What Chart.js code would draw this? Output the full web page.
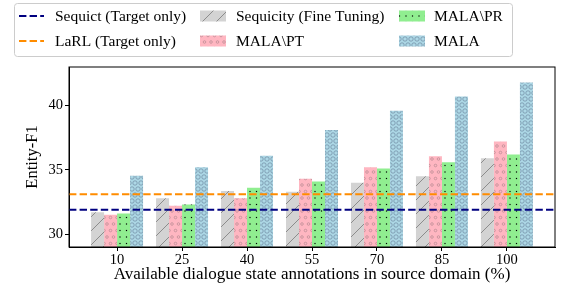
<!DOCTYPE html>
<html>
<head>
<meta charset="utf-8">
<script src="https://cdn.jsdelivr.net/npm/chart.js@4"></script>
<style>html,body{margin:0;padding:0;background:#fff}</style>
</head>
<body>
<canvas id="myChart" width="566" height="284"></canvas>
<script>
const annotations = ['10', '25', '40', '55', '70', '85', '100'];
const sequicityFT = [31.7, 32.8, 33.35, 33.3, 34.0, 34.5, 35.9];
const malaNoPT = [31.5, 32.2, 32.8, 34.3, 35.2, 36.05, 37.2];
const malaNoPR = [31.6, 32.3, 33.6, 34.1, 35.1, 35.6, 36.2];
const mala = [34.55, 35.2, 36.1, 38.1, 39.6, 40.7, 41.8];
const sequictTarget = 31.9;
const larlTarget = 33.1;
const yTicks = [30, 35, 40];

const serif = '"Liberation Serif", "Times New Roman", serif';
const canvas = document.getElementById('myChart');
const mainCtx = canvas.getContext('2d');

function makePattern(bg, size, draw) {
    const c = document.createElement('canvas');
    c.width = size;
    c.height = size;
    const ctx = c.getContext('2d');
    ctx.fillStyle = bg;
    ctx.fillRect(0, 0, size, size);
    draw(ctx);
    return mainCtx.createPattern(c, 'repeat');
}

function circles(ctx, pts, r) {
    pts.forEach(([x, y]) => {
        ctx.beginPath();
        ctx.arc(x, y, r, 0, Math.PI * 2);
        ctx.stroke();
    });
}

const grayHatch = makePattern('#d3d3d3', 14, ctx => {
    ctx.strokeStyle = '#7a7a7a';
    ctx.lineWidth = 0.8;
    ctx.beginPath();
    ctx.moveTo(0, 14); ctx.lineTo(14, 0);
    ctx.moveTo(-1, 1); ctx.lineTo(1, -1);
    ctx.moveTo(13, 15); ctx.lineTo(15, 13);
    ctx.stroke();
});
const pinkHatch = makePattern('#ffb6c1', 13, ctx => {
    ctx.strokeStyle = '#b78a92';
    ctx.lineWidth = 0.7;
    circles(ctx, [[3, 3], [9.5, 3], [0, 9.5], [6.5, 9.5], [13, 9.5]], 1.3);
});
const greenHatch = makePattern('#90ee90', 13, ctx => {
    ctx.fillStyle = '#000';
    [[3, 3], [9.5, 3], [3, 9.5], [9.5, 9.5]].forEach(([x, y]) => {
        ctx.fillRect(x - 0.6, y - 0.6, 1.2, 1.2);
    });
});
const blueHatch = makePattern('#add8e6', 12, ctx => {
    ctx.strokeStyle = '#7592a8';
    ctx.lineWidth = 0.8;
    circles(ctx, [[3, 3], [9, 3], [0, 9], [6, 9], [12, 9]], 2.2);
});

function barSet(label, values, fill) {
    return {
        type: 'bar',
        label: label,
        data: values.map((v, i) => ({x: i, y: v})),
        backgroundColor: fill,
        borderWidth: 0,
        categoryPercentage: 0.8,
        barPercentage: 1.0,
        order: 1
    };
}

function hLine(label, value, color) {
    return {
        type: 'line',
        label: label,
        data: [{x: -0.74, y: value}, {x: 6.74, y: value}],
        borderColor: color,
        borderWidth: 2,
        borderDash: [7.4, 3.2],
        pointRadius: 0,
        fill: false,
        order: 0
    };
}

const legendPlugin = {
    id: 'boxLegend',
    afterDraw(chart) {
        const ctx = chart.ctx;
        const ds = chart.data.datasets;
        const order = [4, 5, 0, 1, 2, 3];
        const cols = [19, 200, 399];
        const textOff = [36, 36, 35];
        const rows = [16, 41];
        ctx.save();
        ctx.fillStyle = 'rgba(255,255,255,0.8)';
        ctx.strokeStyle = '#cccccc';
        ctx.lineWidth = 1;
        ctx.beginPath();
        ctx.roundRect(14.5, 3.5, 498, 53, 3);
        ctx.fill();
        ctx.stroke();
        order.forEach((di, k) => {
            const d = ds[di];
            const col = Math.floor(k / 2);
            const x0 = cols[col];
            const y = rows[k % 2];
            if (d.type === 'line') {
                ctx.strokeStyle = d.borderColor;
                ctx.lineWidth = 2;
                ctx.setLineDash([7.4, 3.2]);
                ctx.beginPath();
                ctx.moveTo(x0, y);
                ctx.lineTo(x0 + 25, y);
                ctx.stroke();
                ctx.setLineDash([]);
            } else {
                ctx.fillStyle = d.backgroundColor;
                ctx.fillRect(x0, y - 5.5, 26, 11);
            }
            ctx.fillStyle = '#000';
            ctx.font = '15.5px ' + serif;
            ctx.textBaseline = 'middle';
            ctx.textAlign = 'left';
            ctx.fillText(d.label, x0 + textOff[col], y + 1);
        });
        ctx.restore();
    }
};

const framePlugin = {
    id: 'frame',
    afterDatasetsDraw(chart) {
        const a = chart.chartArea;
        const ctx = chart.ctx;
        ctx.save();
        ctx.strokeStyle = '#000';
        ctx.lineWidth = 1;
        ctx.strokeRect(a.left, a.top, a.right - a.left, a.bottom - a.top);
        ctx.restore();
    }
};

new Chart(canvas, {
    data: {
        datasets: [
            barSet('Sequicity (Fine Tuning)', sequicityFT, grayHatch),
            barSet('MALA\\PT', malaNoPT, pinkHatch),
            barSet('MALA\\PR', malaNoPR, greenHatch),
            barSet('MALA', mala, blueHatch),
            hLine('Sequict (Target only)', sequictTarget, '#000080'),
            hLine('LaRL (Target only)', larlTarget, '#ff8c00')
        ]
    },
    options: {
        responsive: false,
        animation: false,
        layout: {padding: {top: 67, right: 11, left: 0, bottom: 0}},
        plugins: {
            legend: {display: false},
            tooltip: {enabled: false}
        },
        scales: {
            x: {
                type: 'linear',
                min: -0.74,
                max: 6.74,
                offset: false,
                afterBuildTicks: s => { s.ticks = annotations.map((a, i) => ({value: i})); },
                afterFit: s => { s.height = 37; },
                ticks: {
                    callback: v => annotations[v],
                    color: '#000',
                    padding: 0,
                    maxRotation: 0,
                    font: {family: serif, size: 14.5}
                },
                grid: {drawOnChartArea: false, drawTicks: true, tickLength: 4, color: '#000', offset: false},
                border: {display: true, color: '#000'},
                title: {
                    display: true,
                    text: 'Available dialogue state annotations in source domain (%)',
                    color: '#000',
                    padding: {top: 0, bottom: 0},
                    font: {family: serif, size: 17, lineHeight: 1.1}
                }
            },
            y: {
                min: 29,
                max: 43,
                afterBuildTicks: s => { s.ticks = yTicks.map(v => ({value: v})); },
                afterFit: s => { s.width = 69; },
                ticks: {
                    color: '#000',
                    padding: 2,
                    font: {family: serif, size: 14.5}
                },
                grid: {drawOnChartArea: false, drawTicks: true, tickLength: 4, color: '#000'},
                border: {display: true, color: '#000'},
                title: {
                    display: true,
                    text: 'Entity-F1',
                    color: '#000',
                    padding: {top: 23, bottom: 0},
                    font: {family: serif, size: 16.5}
                }
            }
        }
    },
    plugins: [legendPlugin, framePlugin]
});
</script>
</body>
</html>
